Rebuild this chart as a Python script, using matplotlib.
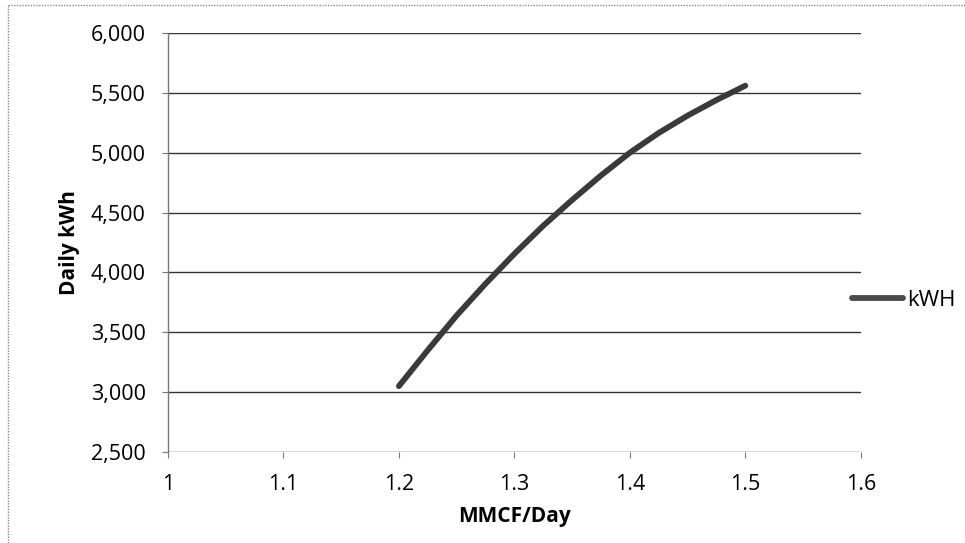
import matplotlib.pyplot as plt
from matplotlib.ticker import FuncFormatter
from matplotlib.lines import Line2D

# Data
mmcf = [1.200, 1.225, 1.250, 1.275, 1.300, 1.325, 1.350, 1.375, 1.400, 1.425, 1.450, 1.475, 1.500]
kwh = [3050, 3350, 3640, 3905, 4155, 4390, 4605, 4810, 5000, 5165, 5310, 5440, 5560]
x_ticks = [1, 1.1, 1.2, 1.3, 1.4, 1.5, 1.6]
y_ticks = [2500, 3000, 3500, 4000, 4500, 5000, 5500, 6000]

FONT = "Open Sans"
LINE_COLOR = "#3a3a3a"

fig = plt.figure(figsize=(9.65, 5.43), dpi=100)
ax = fig.add_axes([0.174, 0.1676, 0.718, 0.7716])

# Gridlines
for v in y_ticks:
    ax.axhline(v, color="#333333", lw=1.0, zorder=1)

ax.plot(mmcf, kwh, color=LINE_COLOR, lw=4.2, solid_capstyle="round", zorder=3, label="kWH")

ax.set_xlim(1, 1.6)
ax.set_ylim(2500, 6000)
ax.set_xticks(x_ticks)
ax.set_xticklabels([f"{t:g}" for t in x_ticks])
ax.set_yticks(y_ticks)
ax.yaxis.set_major_formatter(FuncFormatter(lambda v, p: f"{v:,.0f}"))

for s in ["top", "right", "bottom"]:
    ax.spines[s].set_visible(False)
ax.spines["left"].set_color("#777777")
ax.spines["left"].set_linewidth(1.0)

ax.tick_params(axis="both", length=4, width=0.8, color="#777777", labelsize=15.5)
ax.tick_params(axis="y", pad=12)
ax.tick_params(axis="x", pad=12)
for lbl in ax.get_xticklabels() + ax.get_yticklabels():
    lbl.set_fontfamily(FONT)

ax.set_xlabel("MMCF/Day", fontsize=15, fontweight="bold", family=FONT, labelpad=8)
ax.set_ylabel("Daily kWh", fontsize=15, fontweight="bold", family=FONT, labelpad=8)

# Legend on the right
handle = Line2D([0], [0], color="#4a4a4a", lw=4.2, solid_capstyle="round")
fig.legend([handle], ["kWH"], loc="center left", bbox_to_anchor=(852 / 965, 1 - 300 / 543),
           frameon=False, borderaxespad=0, borderpad=0, handlelength=2.3,
           handletextpad=0.2, prop={"family": FONT, "size": 16})

# Outer chart border (left and top edges visible)
fig.add_artist(Line2D([8 / 965, 8 / 965], [0, 1 - 5 / 543], transform=fig.transFigure,
                      color="#888888", lw=1, ls=(0, (1, 1))))
fig.add_artist(Line2D([8 / 965, 1], [1 - 5 / 543, 1 - 5 / 543], transform=fig.transFigure,
                      color="#888888", lw=1, ls=(0, (1, 1))))

fig.savefig("out.png", dpi=100)
